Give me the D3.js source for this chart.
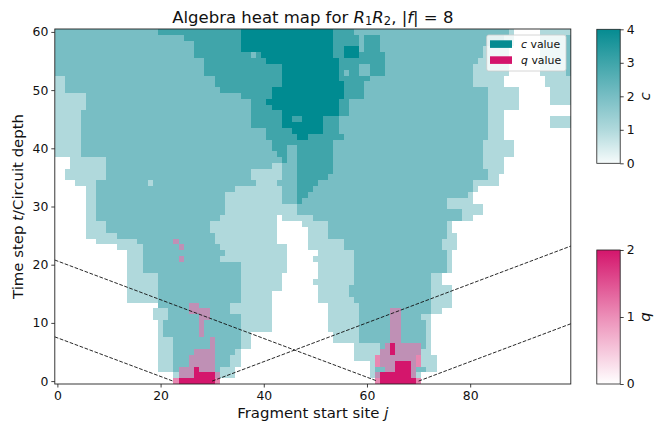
<!DOCTYPE html>
<html><head><meta charset="utf-8">
<script src="https://cdn.jsdelivr.net/npm/d3@7"></script>
<style>
html,body{margin:0;padding:0;background:#fff}
svg{display:block}
text{font-family:"DejaVu Sans",sans-serif;fill:#111}
</style></head><body><div id="c"></div>
<script>
// each row, top (t=60) to bottom (t=0): flat pairs "start column, level"
const cRuns = [
[0,2,20,3,36,4,54,3,58,2,88,1,89,0,94,1],
[0,2,25,3,36,4,54,3,59,2,60,3,63,2,87,1,89,0,94,1,99,2],
[0,2,27,3,36,4,54,3,59,2,60,3,63,2,87,1,89,0,94,1,99,2],
[0,2,27,3,36,4,54,3,56,4,59,2,60,3,63,2,83,1,88,0,94,1,99,2],
[0,2,27,3,38,2,39,3,40,4,54,3,56,4,59,3,64,2,83,1,88,0,94,1,99,2],
[0,2,29,3,41,4,55,3,64,2,82,1,88,0,94,1,99,2],
[0,2,29,3,44,4,55,3,59,2,61,3,64,2,81,1,88,0,94,1,99,2],
[0,2,29,3,44,4,55,3,56,2,57,3,59,2,61,3,64,2,81,1,88,0,94,1,99,2],
[0,1,2,2,31,3,44,4,55,3,61,2,81,1,87,0,95,1],
[0,1,2,2,31,3,44,4,56,3,60,2,81,1,87,0,95,1],
[0,1,2,2,32,3,42,4,56,3,60,2,84,1,90,0,96,1],
[0,1,6,2,36,3,42,4,56,3,60,2,84,1,90,0,96,1],
[0,1,6,2,38,3,41,4,55,3,57,2,84,1,90,0,96,1],
[0,1,6,2,38,3,42,4,55,3,57,2,84,1,90,0],
[0,1,5,2,38,3,44,4,55,3,57,2,84,1,87,0],
[0,1,5,2,38,3,44,4,46,3,48,4,52,3,55,2,84,1,87,0,96,1],
[0,1,5,2,38,3,44,4,52,3,55,2,84,1,87,0,96,1],
[0,1,5,2,41,3,46,4,52,3,55,2,84,1,87,0],
[0,1,5,2,41,3,47,4,49,3,56,2,84,1,87,0],
[0,1,5,2,42,3,54,2,83,1,89,0],
[0,1,5,2,42,3,45,2,47,3,54,2,83,1,89,0],
[0,1,5,2,43,3,45,2,47,3,54,2,83,1,89,0],
[3,1,10,2,44,3,45,2,47,3,54,2,83,1,87,0],
[3,1,10,2,42,1,44,2,47,3,54,2,83,1,87,0],
[2,1,10,2,38,1,44,2,47,3,54,2,84,1,87,0],
[2,1,10,2,38,1,44,2,47,3,53,2,84,1,86,0],
[4,1,8,2,18,1,19,2,39,1,43,2,47,3,51,2,81,1,86,0],
[6,1,8,2,35,1,44,2,47,3,50,2,81,1,82,0],
[6,1,8,2,33,1,44,2,47,3,49,2,80,1,81,0],
[6,1,8,2,33,1,44,2,47,3,48,2,76,1,81,0],
[6,1,8,2,33,1,47,2,76,1,83,0],
[6,1,8,2,33,1,47,2,79,1,83,0],
[6,1,8,2,32,1,43,0,44,1,50,2,79,1,81,0],
[6,1,10,2,30,1,43,0,48,1,53,2,76,1,77,0],
[6,1,10,2,30,1,43,0,49,1,53,2,76,1,77,0],
[6,1,12,2,31,1,43,0,49,1,53,2,76,1,78,0],
[8,1,16,2,31,1,43,0,49,1,56,2,75,1,78,0],
[12,1,17,2,32,1,45,0,49,1,56,2,75,1,78,0],
[14,1,17,2,33,1,45,0,51,1,58,2,76,1,77,0],
[14,1,17,2,32,1,45,0,50,1,58,2,76,1,77,0],
[14,1,17,2,36,1,45,0,51,1,58,2,76,1,77,0],
[14,1,17,2,36,1,45,0,51,1,58,2,76,1,77,0],
[14,1,20,2,36,1,44,0,51,1,58,2,73,1,75,0],
[14,1,20,2,36,1,44,0,50,1,58,2,73,1,75,0],
[14,1,20,2,36,1,44,0,51,1,57,2,73,1,77,0],
[14,1,20,2,36,1,42,0,51,1,57,2,73,1,77,0],
[14,1,20,2,36,1,42,0,51,1,58,2,73,1,77,0],
[20,2,34,1,42,0,53,1,59,2,73,1,77,0],
[19,1,22,2,34,1,42,0,53,1,59,2,73,1,75,0],
[19,1,22,2,36,1,42,0,53,1,59,2,71,1,73,0],
[20,1,21,2,36,1,42,0,53,1,59,2,72,1,73,0],
[20,1,21,2,36,1,42,0,53,1,59,2,72,1,73,0],
[20,1,21,2,36,1,38,0,54,1,59,2,72,1,73,0],
[20,1,23,2,36,1,38,0,54,1,59,2,72,1,73,0],
[20,1,23,2,36,1,38,0,58,1,63,2,72,1,73,0],
[20,1,23,2,35,1,36,0,58,1,63,2,71,1,73,0],
[20,1,23,2,34,1,36,0,58,1,62,0,63,2,70,0,71,1,74,0],
[20,1,23,2,34,1,36,0,61,1,62,0,63,2,70,0,71,1,74,0],
[20,1,23,2,32,1,35,0,61,1,62,2,72,1,74,0],
[23,1,24,2,32,1,35,0,61,1,62,2,70,1,71,0],
[24,2,31,0,63,2,70,0]
];
// q rows that are non-empty, keyed by row index from the top
const qRuns = {
36:[23,1,24,0],
37:[24,1,25,0],
39:[24,1,25,0],
47:[26,1,28,0],
48:[26,1,30,0,65,1,67,0],
49:[28,1,30,0,65,1,67,0],
50:[28,1,29,0,65,1,67,0],
51:[28,1,29,0,65,1,67,0],
52:[28,1,29,0,65,1,67,0],
53:[30,1,31,0,65,1,67,0],
54:[30,1,31,0,64,1,65,2,66,1,71,0],
55:[27,1,31,0,63,1,65,2,66,1,71,0],
56:[26,1,31,0,62,1,71,0],
57:[26,1,31,0,62,1,66,2,69,1,71,0],
58:[24,1,27,2,28,1,31,0,64,1,66,2,69,1,70,0],
59:[24,1,27,2,31,1,32,0,62,1,63,2,69,1,70,0],
60:[23,1,24,2,31,1,32,0,62,1,63,2,70,1,71,0]
};
const columnCount = 100;
const rowCount = 61;
const xTicks = [0,20,40,60,80];
const yTicks = [0,10,20,30,40,50,60];
const cTicks = [0,1,2,3,4];
const qTicks = [0,1,2];
const cColors = ["#f6fbfb","#b0d9dc","#78bec4","#3fa5aa","#058b91"];
const qOverWhite = "#e887b1";
const qOverTeal = "#bf90b5";
const qSolid = "#d4156c";
// light-cone guide lines: [j, t] end points
const coneLines = [
 [[-0.5,20.8],[62,0]],
 [[-0.5,7.6],[22.4,0]],
 [[30,0],[99.5,23.2]],
 [[70,0],[99.5,9.85]]
];
const legendItems = [["c",cColors[4]],["q",qSolid]];

const W=662,H=422;
const svg=d3.select("#c").append("svg").attr("width",W).attr("height",H);
const x=d3.scaleLinear().domain([-0.5,99.5]).range([54.8,570.8]);
const y=d3.scaleLinear().domain([-0.5,60.5]).range([384,29]);
const defs=svg.append("defs");
const soft=defs.append("filter").attr("id","soft").attr("x",-0.01).attr("y",-0.01).attr("width",1.02).attr("height",1.02);
soft.append("feGaussianBlur").attr("stdDeviation",0.35);
defs.append("clipPath").attr("id","plot").append("rect")
  .attr("x",x(-0.5)).attr("y",y(60.5)).attr("width",x(99.5)-x(-0.5)).attr("height",y(-0.5)-y(60.5));

function expand(runs){
  const a=new Array(columnCount).fill(0);
  for(let i=0;i<runs.length;i+=2){
    const end=i+2<runs.length?runs[i+2]:columnCount;
    for(let j=runs[i];j<end;j++)a[j]=runs[i+1];
  }
  return a;
}
const cells=[];
cRuns.forEach((runs,n)=>{
  const t=rowCount-1-n;
  const cv=expand(runs);
  const qv=qRuns[n]?expand(qRuns[n]):null;
  cv.forEach((c,j)=>{
    const q=qv?qv[j]:0;
    if(q===0&&c===0)return;
    let fill=cColors[c];
    if(q===2)fill=qSolid;
    else if(q===1)fill=c===0?qOverWhite:qOverTeal;
    cells.push({j,t,fill});
  });
});
svg.append("g").attr("clip-path","url(#plot)").append("g").attr("filter","url(#soft)").attr("shape-rendering","crispEdges")
  .selectAll("rect").data(cells).join("rect")
  .attr("x",d=>x(d.j-0.5)).attr("width",d=>x(d.j+0.5)-x(d.j-0.5))
  .attr("y",d=>y(d.t+0.5)).attr("height",d=>y(d.t-0.5)-y(d.t+0.5))
  .attr("fill",d=>d.fill);

const ln=d3.line().x(d=>x(d[0])).y(d=>y(d[1]));
svg.append("g").selectAll("path").data(coneLines).join("path")
  .attr("d",ln).attr("fill","none").attr("stroke","#111").attr("stroke-width",0.9)
  .attr("stroke-dasharray","3.7,1.6");

function styleAxis(g){
  g.selectAll("text").attr("font-size",12.4).attr("fill","#111");
  g.selectAll(".tick line").attr("stroke","#111").attr("stroke-width",0.8);
}
const fmt=d3.format("d");
svg.append("g").attr("transform",`translate(0,${y(-0.5)})`)
  .call(d3.axisBottom(x).tickValues(xTicks).tickFormat(fmt).tickSize(3.5).tickPadding(3.2).tickSizeOuter(0))
  .call(styleAxis).call(g=>g.select(".domain").remove());
svg.append("g").attr("transform",`translate(${x(-0.5)},0)`)
  .call(d3.axisLeft(y).tickValues(yTicks).tickFormat(fmt).tickSize(3.5).tickPadding(3).tickSizeOuter(0))
  .call(styleAxis).call(g=>g.select(".domain").remove());
svg.append("rect").attr("x",x(-0.5)).attr("y",y(60.5)).attr("width",x(99.5)-x(-0.5)).attr("height",y(-0.5)-y(60.5))
  .attr("fill","none").attr("stroke","#222").attr("stroke-width",0.9);

// legend
const lg=svg.append("g");
lg.append("rect").attr("x",486.7).attr("y",35).attr("width",79.3).attr("height",36).attr("rx",2)
  .attr("fill","#fff").attr("fill-opacity",0.8).attr("stroke","#ccc").attr("stroke-width",0.8);
legendItems.forEach((d,i)=>{
  const py=40.3+16*i;
  lg.append("rect").attr("x",490).attr("y",py).attr("width",22).attr("height",7.6).attr("fill",d[1]);
  const t=lg.append("text").attr("x",521).attr("y",py+8).attr("font-size",10.9);
  t.append("tspan").attr("font-style","italic").text(d[0]);
  t.append("tspan").text(" value");
});

// titles
const title=svg.append("text").attr("x",312.8).attr("y",22.5).attr("text-anchor","middle").attr("font-size",16.5);
title.append("tspan").text("Algebra heat map for ");
title.append("tspan").attr("font-style","italic").text("R");
title.append("tspan").attr("font-size",11.5).attr("dy",2.5).text("1");
title.append("tspan").attr("font-style","italic").attr("dy",-2.5).text("R");
title.append("tspan").attr("font-size",11.5).attr("dy",2.5).text("2");
title.append("tspan").attr("dy",-2.5).text(", |");
title.append("tspan").attr("font-style","italic").text("f");
title.append("tspan").text("| = 8");

const xl=svg.append("text").attr("x",312.8).attr("y",418).attr("text-anchor","middle").attr("font-size",14.9);
xl.append("tspan").text("Fragment start site ");
xl.append("tspan").attr("font-style","italic").text("j");

const yl=svg.append("text").attr("transform","translate(23,206.5) rotate(-90)").attr("text-anchor","middle").attr("font-size",14.9);
yl.append("tspan").text("Time step ");
yl.append("tspan").attr("font-style","italic").text("t");
yl.append("tspan").text("/Circuit depth");

// colorbars
function gradient(id,stops){
  const g=defs.append("linearGradient").attr("id",id).attr("x1",0).attr("x2",0).attr("y1",1).attr("y2",0);
  stops.forEach((s,i)=>g.append("stop").attr("offset",i/(stops.length-1)).attr("stop-color",s));
}
gradient("cg",cColors);
gradient("qg",["#ffffff","#ec8fb8",qSolid]);
function colorbar(id,y0,y1,max,ticks,name){
  const s=d3.scaleLinear().domain([0,max]).range([y1,y0]);
  const cx0=596.8,cx1=620.2;
  svg.append("rect").attr("x",cx0).attr("y",y0).attr("width",cx1-cx0).attr("height",y1-y0)
    .attr("fill",`url(#${id})`).attr("stroke","#222").attr("stroke-width",0.8);
  svg.append("g").attr("transform",`translate(${cx1},0)`)
    .call(d3.axisRight(s).tickValues(ticks).tickFormat(fmt).tickSize(3.5).tickPadding(3).tickSizeOuter(0))
    .call(styleAxis).call(g=>g.select(".domain").remove());
  svg.append("text").attr("transform",`translate(650,${(y0+y1)/2}) rotate(-90)`).attr("text-anchor","middle")
    .attr("font-size",14.9).attr("font-style","italic").text(name);
}
colorbar("cg",29.3,163.3,4,cTicks,"c");
colorbar("qg",250,384,2,qTicks,"q");
</script></body></html>
